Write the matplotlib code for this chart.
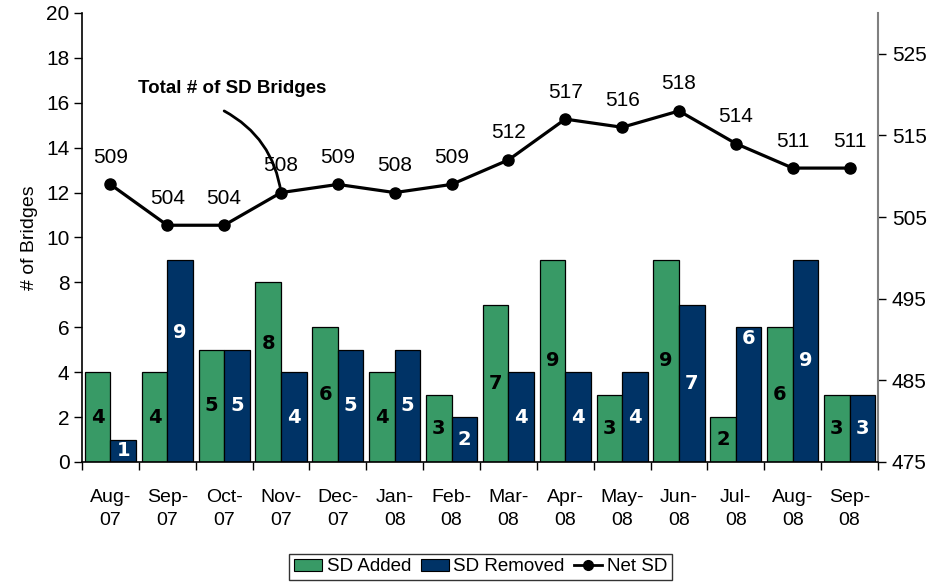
import matplotlib
matplotlib.use("Agg")
import matplotlib.pyplot as plt
import numpy as np
from matplotlib.lines import Line2D
from matplotlib.patches import Patch

months = ["Aug-\n07", "Sep-\n07", "Oct-\n07", "Nov-\n07", "Dec-\n07", "Jan-\n08", "Feb-\n08",
          "Mar-\n08", "Apr-\n08", "May-\n08", "Jun-\n08", "Jul-\n08", "Aug-\n08", "Sep-\n08"]
sd_added = [4, 4, 5, 8, 6, 4, 3, 7, 9, 3, 9, 2, 6, 3]
sd_removed = [1, 9, 5, 4, 5, 5, 2, 4, 4, 4, 7, 6, 9, 3]
net_sd = [509, 504, 504, 508, 509, 508, 509, 512, 517, 516, 518, 514, 511, 511]

# label positions (data units) where they were moved off-centre in the original
added_label_y = {3: 5.3}
removed_label_y = {1: 5.75, 11: 5.5}

GREEN = "#389A66"
NAVY = "#003366"
FONT = ["Liberation Sans", "DejaVu Sans"]
plt.rcParams['font.family'] = FONT

fig = plt.figure(figsize=(9.48, 5.82), dpi=100)
ax = fig.add_axes([0.0865, 0.2062, 0.8397, 0.7715])
ax2 = ax.twinx()
ax.set_zorder(ax2.get_zorder() + 1)
ax.patch.set_visible(False)

x = np.arange(len(months))
w = 0.45
ax.bar(x - w / 2, sd_added, w, color=GREEN, edgecolor="black", linewidth=0.9, zorder=2)
ax.bar(x + w / 2, sd_removed, w, color=NAVY, edgecolor="black", linewidth=0.9, zorder=2)

for i in x:
    ya = added_label_y.get(i, sd_added[i] / 2)
    yr = removed_label_y.get(i, sd_removed[i] / 2)
    ax.text(i - w / 2, ya, str(sd_added[i]), ha="center", va="center", fontsize=14,
            fontweight="bold", color="black", family="DejaVu Sans", zorder=3)
    ax.text(i + w / 2, yr, str(sd_removed[i]), ha="center", va="center", fontsize=14,
            fontweight="bold", color="white", family="DejaVu Sans", zorder=3)

ax.set_xlim(-0.5, len(months) - 0.5)
ax.set_ylim(0, 20)
ax.set_yticks(range(0, 21, 2))
ax.set_xticks(x)
ax.set_xticklabels(months, fontsize=14, linespacing=1.45)
ax.set_xticks(np.arange(-0.5, len(months), 1.0), minor=True)
ax.tick_params(axis="x", which="major", length=0, pad=19.5)
ax.tick_params(axis="x", which="minor", length=6, width=1, direction="out")
ax.tick_params(axis="y", labelsize=15, length=6, width=1, direction="out", pad=3)
ax.set_ylabel("# of Bridges", fontsize=14, labelpad=6)

ax2.set_ylim(475, 530)
ax2.set_yticks(range(475, 530, 10))
ax2.tick_params(axis="y", labelsize=15, length=6, width=1, direction="out", colors="black", pad=4)
ax2.spines["right"].set_color("#808080")
ax2.spines["right"].set_linewidth(1.5)
for s in ["top", "left", "bottom"]:
    ax2.spines[s].set_visible(False)
ax.spines["top"].set_visible(False)
ax.spines["right"].set_visible(False)
ax.spines["left"].set_linewidth(1.2)
ax.spines["bottom"].set_linewidth(1.2)

trans = ax2.transData
ax.plot(x, net_sd, color="black", linewidth=2.3, marker="o", markersize=8,
        transform=trans, zorder=4, clip_on=False)
for i in x:
    ax.annotate(str(net_sd[i]), xy=(i, net_sd[i]), xycoords=trans,
                xytext=(0, 19.5), textcoords="offset points",
                ha="center", va="center", fontsize=15, zorder=5)

# callout
ax.annotate("", xy=(3, 508), xycoords=trans, xytext=(2.0, 518.0), textcoords=trans,
            arrowprops=dict(arrowstyle="-", color="black", linewidth=2,
                            connectionstyle="arc3,rad=-0.25", shrinkA=0, shrinkB=0),
            zorder=4)
ax.text(2.14, 520.8, "Total # of SD Bridges", transform=trans, ha="center", va="center",
        fontsize=13.5, fontweight="bold", zorder=5)

handles = [Patch(facecolor=GREEN, edgecolor="black", linewidth=0.8),
           Patch(facecolor=NAVY, edgecolor="black", linewidth=0.8),
           Line2D([0], [0], color="black", linewidth=2, marker="o", markersize=7)]
leg = fig.legend(handles, ["SD Added", "SD Removed", "Net SD"], loc="lower center",
                 bbox_to_anchor=(0.507, 0.0), ncol=3, fontsize=13.5, frameon=True,
                 fancybox=False, edgecolor="black", borderpad=0.25, handlelength=1.5,
                 handleheight=0.65, handletextpad=0.25, columnspacing=0.5, borderaxespad=0.1)
leg.get_frame().set_linewidth(1.0)

fig.savefig("out.png", dpi=100)
